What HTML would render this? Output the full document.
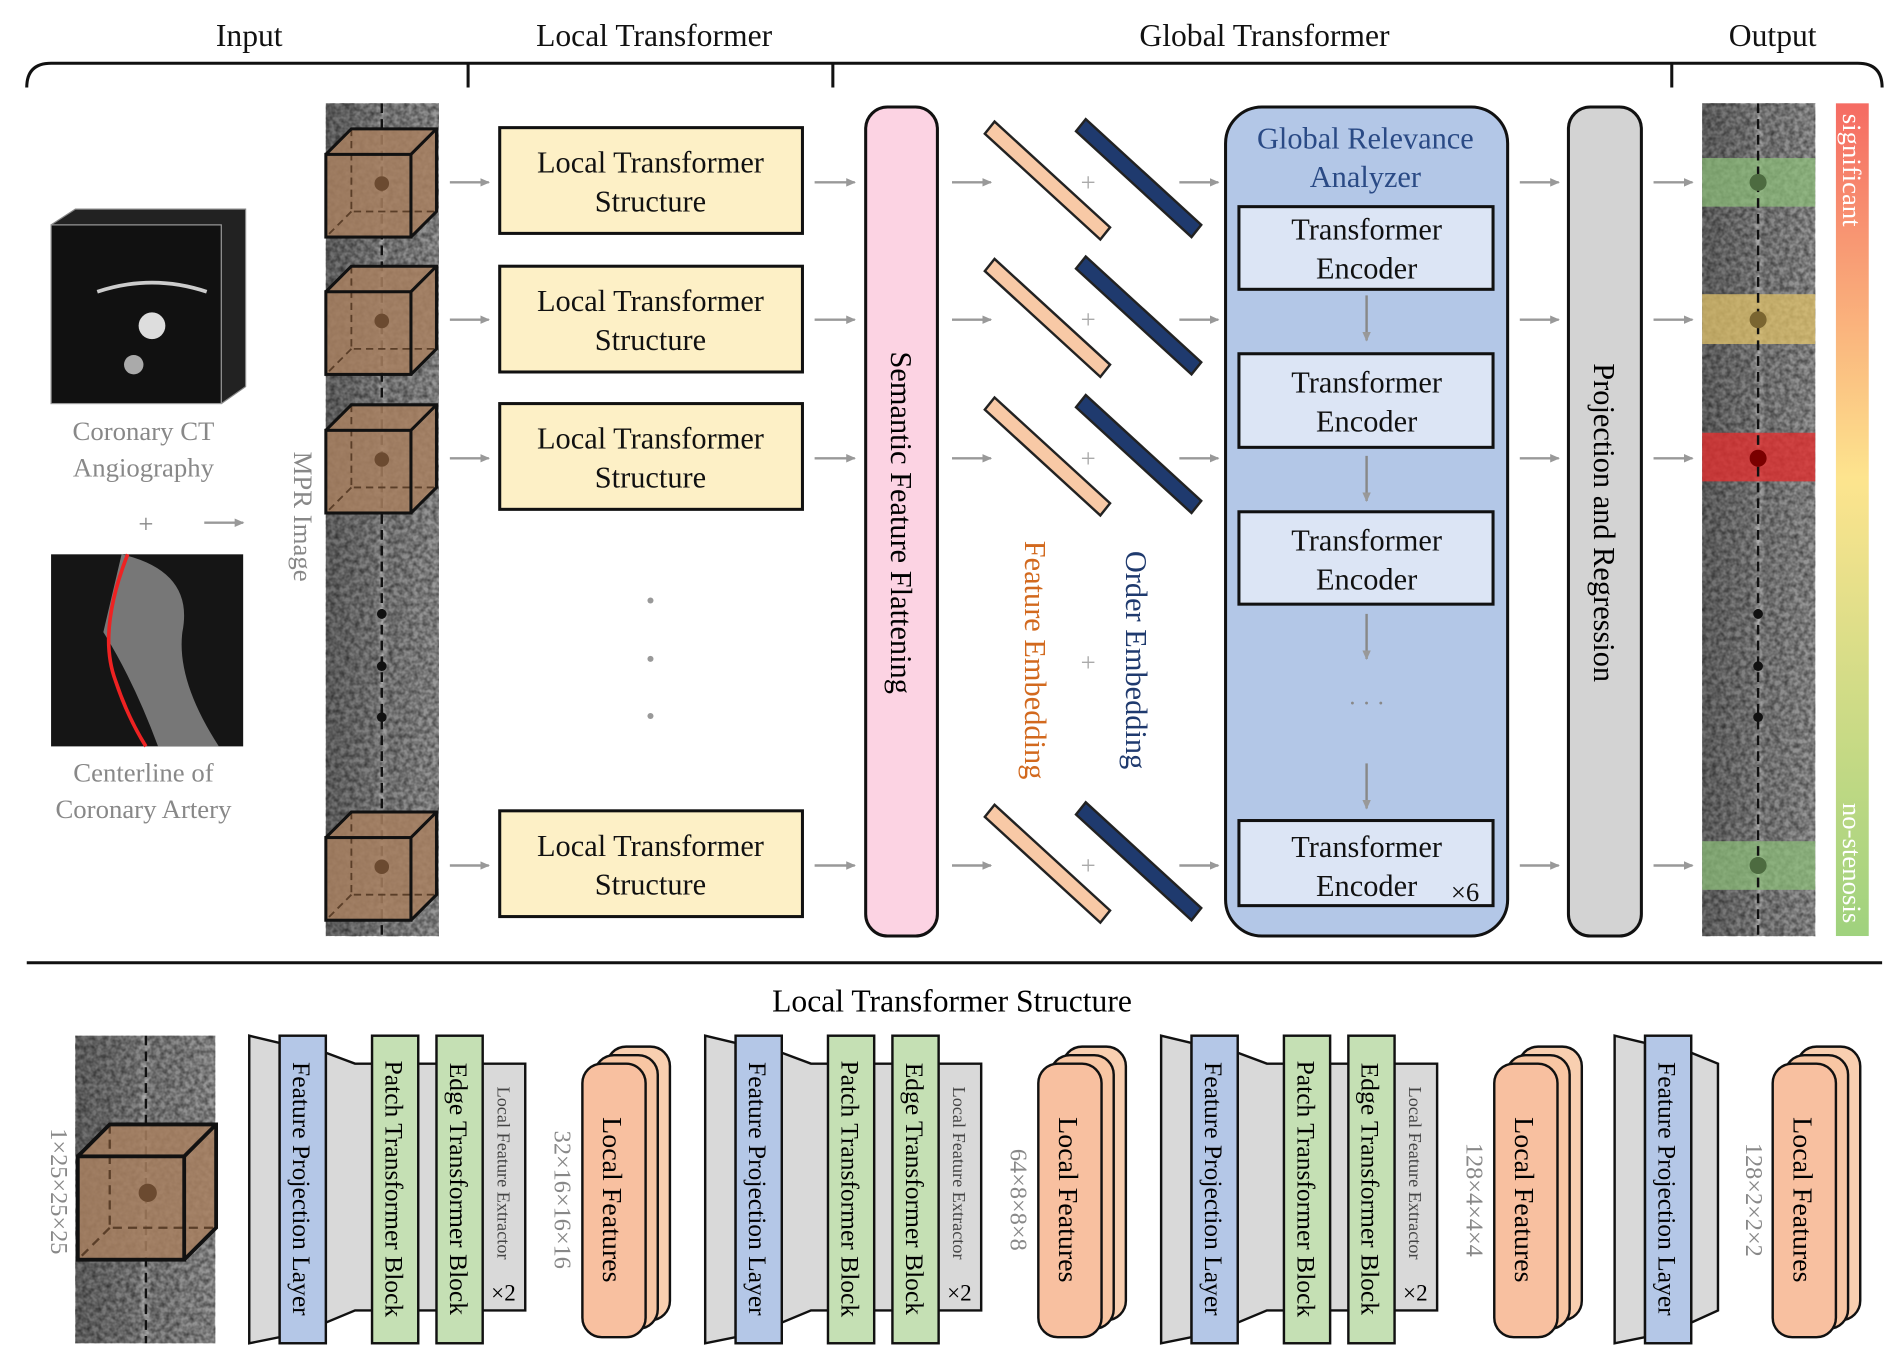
<!DOCTYPE html>
<html><head><meta charset="utf-8"><style>
html,body{margin:0;padding:0;background:#fff;width:1904px;height:1370px;overflow:hidden}
svg{display:block}
text{font-family:"Liberation Serif",serif}
</style></head><body>
<svg width="1904" height="1370" viewBox="0 0 1566 1127" preserveAspectRatio="none" xmlns="http://www.w3.org/2000/svg">
<defs>
<marker id="ar" markerWidth="8" markerHeight="8" refX="7" refY="4" orient="auto" markerUnits="userSpaceOnUse"><path d="M0,0.5 L8,4 L0,7.5z" fill="#999"/></marker>
<linearGradient id="bar" x1="0" y1="0" x2="0" y2="1"><stop offset="0" stop-color="#f56b63"/><stop offset="0.45" stop-color="#fde48e"/><stop offset="1" stop-color="#9fd27e"/></linearGradient>
<linearGradient id="strip" x1="0" y1="0" x2="1" y2="0"><stop offset="0" stop-color="#6d6d6d"/><stop offset="0.45" stop-color="#858585"/><stop offset="0.5" stop-color="#b0b0b0"/><stop offset="0.55" stop-color="#858585"/><stop offset="1" stop-color="#9a9a9a"/></linearGradient>
<filter id="noise" x="0" y="0" width="100%" height="100%"><feTurbulence type="fractalNoise" baseFrequency="0.25" numOctaves="2" seed="3"/><feColorMatrix type="matrix" values="0 0 0 0 0  0 0 0 0 0  0 0 0 0 0  0 0 0 0.9 -0.25"/></filter>
<g id="cube">
<path d="M0,21 L21,0 L91,0 L91,68 L70,89 L0,89z" fill="#a88060" fill-opacity="0.85"/>
<path d="M21,0 V68 H91 M21,68 L0,89" stroke="#5a3e28" stroke-width="1.5" stroke-dasharray="6,4" fill="none"/>
<rect x="0" y="21" width="70" height="68" fill="none" stroke="#111" stroke-width="2.5"/>
<path d="M0,21 L21,0 H91 V68 L70,89 M70,21 L91,0" fill="none" stroke="#111" stroke-width="2.5"/>
<circle cx="46" cy="45" r="6" fill="#6b4a30"/>
</g>
</defs>

<!-- headers -->
<g font-size="26" text-anchor="middle" fill="#111">
<text x="205" y="38">Input</text><text x="538" y="38">Local Transformer</text>
<text x="1040" y="38">Global Transformer</text><text x="1458" y="38">Output</text>
</g>
<path d="M22,72 Q22,52 42,52 H1528 Q1548,52 1548,72" fill="none" stroke="#111" stroke-width="2.5"/>
<path d="M385,52 V72 M685,52 V72 M1375,52 V72" stroke="#111" stroke-width="2.5"/>

<!-- input -->
<path d="M42,185 L62,172 H202 V318 L182,332" fill="#222" stroke="#888"/>
<rect x="42" y="185" width="140" height="147" fill="#111" stroke="#999"/>
<circle cx="125" cy="268" r="11" fill="#ddd"/><circle cx="110" cy="300" r="8" fill="#aaa"/><path d="M80,240 Q125,225 170,240" stroke="#ccc" stroke-width="3" fill="none"/>
<g font-size="22" fill="#888" text-anchor="middle">
<text x="118" y="362">Coronary CT</text><text x="118" y="392">Angiography</text>
<text x="120" y="438">+</text>
<text x="118" y="643">Centerline of</text><text x="118" y="673">Coronary Artery</text>
</g>
<line x1="168" y1="430" x2="200" y2="430" stroke="#999" stroke-width="2" marker-end="url(#ar)"/>
<rect x="42" y="456" width="158" height="158" fill="#151515"/>
<path d="M100,456 Q160,470 150,520 Q145,560 180,614 H130 Q110,560 85,520 Z" fill="#777"/>
<path d="M105,456 Q80,520 95,560 Q105,590 120,614" stroke="#e22" stroke-width="3" fill="none"/>
<text x="242" y="425" font-size="22" fill="#888" text-anchor="middle" transform="rotate(90 242 425)">MPR Image</text>

<!-- MPR strip -->
<rect x="268" y="85" width="93" height="685" fill="url(#strip)"/>
<rect x="268" y="85" width="93" height="685" filter="url(#noise)"/>
<line x1="314" y1="85" x2="314" y2="770" stroke="#111" stroke-width="2" stroke-dasharray="8,5"/>
<circle cx="314" cy="505" r="4" fill="#111"/><circle cx="314" cy="548" r="4" fill="#111"/><circle cx="314" cy="590" r="4" fill="#111"/>
<use href="#cube" x="268" y="106"/><use href="#cube" x="268" y="219"/><use href="#cube" x="268" y="333"/><use href="#cube" x="268" y="668"/>

<!-- arrows row -->
<g stroke="#999" stroke-width="2" marker-end="url(#ar)">
<line x1="370" y1="150" x2="402" y2="150"/><line x1="370" y1="263" x2="402" y2="263"/><line x1="370" y1="377" x2="402" y2="377"/><line x1="370" y1="712" x2="402" y2="712"/>
<line x1="670" y1="150" x2="703" y2="150"/><line x1="670" y1="263" x2="703" y2="263"/><line x1="670" y1="377" x2="703" y2="377"/><line x1="670" y1="712" x2="703" y2="712"/>
<line x1="783" y1="150" x2="815" y2="150"/><line x1="783" y1="263" x2="815" y2="263"/><line x1="783" y1="377" x2="815" y2="377"/><line x1="783" y1="712" x2="815" y2="712"/>
<line x1="970" y1="150" x2="1002" y2="150"/><line x1="970" y1="263" x2="1002" y2="263"/><line x1="970" y1="377" x2="1002" y2="377"/><line x1="970" y1="712" x2="1002" y2="712"/>
<line x1="1250" y1="150" x2="1282" y2="150"/><line x1="1250" y1="263" x2="1282" y2="263"/><line x1="1250" y1="377" x2="1282" y2="377"/><line x1="1250" y1="712" x2="1282" y2="712"/>
<line x1="1360" y1="150" x2="1392" y2="150"/><line x1="1360" y1="263" x2="1392" y2="263"/><line x1="1360" y1="377" x2="1392" y2="377"/><line x1="1360" y1="712" x2="1392" y2="712"/>
</g>

<!-- local transformer boxes -->
<g fill="#fdf0c6" stroke="#111" stroke-width="2.5">
<rect x="411" y="105" width="249" height="87"/><rect x="411" y="219" width="249" height="87"/><rect x="411" y="332" width="249" height="87"/><rect x="411" y="667" width="249" height="87"/>
</g>
<g font-size="25" text-anchor="middle" fill="#111">
<text x="535" y="142">Local Transformer</text><text x="535" y="174">Structure</text>
<text x="535" y="256">Local Transformer</text><text x="535" y="288">Structure</text>
<text x="535" y="369">Local Transformer</text><text x="535" y="401">Structure</text>
<text x="535" y="704">Local Transformer</text><text x="535" y="736">Structure</text>
</g>
<g fill="#999"><circle cx="535" cy="494" r="2.5"/><circle cx="535" cy="542" r="2.5"/><circle cx="535" cy="589" r="2.5"/></g>

<!-- semantic feature flattening -->
<rect x="712" y="88" width="59" height="682" rx="18" fill="#fcd3e3" stroke="#111" stroke-width="2.5"/>
<text x="733" y="430" font-size="25" text-anchor="middle" transform="rotate(90 733 430)">Semantic Feature Flattening</text>

<!-- embeddings -->
<g stroke="#222" stroke-width="2">
<g fill="#f8c9a6">
<path d="M818,100 L913,187 L905,197 L810,110z"/><path d="M818,213 L913,300 L905,310 L810,223z"/><path d="M818,327 L913,414 L905,424 L810,337z"/><path d="M818,662 L913,749 L905,759 L810,672z"/>
</g>
<g fill="#1f3a6e">
<path d="M893,98 L988,185 L980,195 L885,108z"/><path d="M893,211 L988,298 L980,308 L885,221z"/><path d="M893,325 L988,412 L980,422 L885,335z"/><path d="M893,660 L988,747 L980,757 L885,670z"/>
</g>
</g>
<g font-size="22" fill="#aaa" text-anchor="middle">
<text x="895" y="157">+</text><text x="895" y="270">+</text><text x="895" y="384">+</text><text x="895" y="552">+</text><text x="895" y="719">+</text>
</g>
<text x="843" y="543" font-size="25" fill="#d2691e" text-anchor="middle" transform="rotate(90 843 543)">Feature Embedding</text>
<text x="926" y="543" font-size="25" fill="#1f3a6e" text-anchor="middle" transform="rotate(90 926 543)">Order Embedding</text>

<!-- global relevance analyzer -->
<rect x="1008" y="88" width="232" height="682" rx="30" fill="#b3c7e7" stroke="#111" stroke-width="2.5"/>
<text x="1123" y="122" font-size="25" fill="#2a4a85" text-anchor="middle">Global Relevance</text>
<text x="1123" y="154" font-size="25" fill="#2a4a85" text-anchor="middle">Analyzer</text>
<g fill="#dce5f5" stroke="#111" stroke-width="2.5">
<rect x="1019" y="170" width="209" height="68"/><rect x="1019" y="291" width="209" height="77"/><rect x="1019" y="421" width="209" height="76"/><rect x="1019" y="675" width="209" height="70"/>
</g>
<g font-size="25" text-anchor="middle" fill="#111">
<text x="1124" y="197">Transformer</text><text x="1124" y="229">Encoder</text>
<text x="1124" y="323">Transformer</text><text x="1124" y="355">Encoder</text>
<text x="1124" y="453">Transformer</text><text x="1124" y="485">Encoder</text>
<text x="1124" y="705">Transformer</text><text x="1124" y="737">Encoder</text>
<text x="1205" y="741" font-size="22">×6</text>
</g>
<g stroke="#888" stroke-width="2" marker-end="url(#ar)">
<line x1="1124" y1="243" x2="1124" y2="280"/><line x1="1124" y1="375" x2="1124" y2="412"/><line x1="1124" y1="505" x2="1124" y2="542"/><line x1="1124" y1="628" x2="1124" y2="665"/>
</g>
<text x="1124" y="585" font-size="20" fill="#888" text-anchor="middle">· · ·</text>

<!-- projection -->
<rect x="1290" y="88" width="60" height="682" rx="18" fill="#d3d3d3" stroke="#111" stroke-width="2.5"/>
<text x="1311" y="430" font-size="25" text-anchor="middle" transform="rotate(90 1311 430)">Projection and Regression</text>

<!-- output strip -->
<rect x="1400" y="85" width="93" height="685" fill="url(#strip)"/>
<rect x="1400" y="85" width="93" height="685" filter="url(#noise)"/>
<rect x="1400" y="130" width="93" height="40" fill="#8fc27a" fill-opacity="0.7"/>
<rect x="1400" y="242" width="93" height="41" fill="#e0c16a" fill-opacity="0.75"/>
<rect x="1400" y="356" width="93" height="40" fill="#e03030" fill-opacity="0.8"/>
<rect x="1400" y="692" width="93" height="40" fill="#8fc27a" fill-opacity="0.7"/>
<line x1="1446" y1="85" x2="1446" y2="770" stroke="#111" stroke-width="2" stroke-dasharray="8,5"/>
<circle cx="1446" cy="150" r="7" fill="#4d6b40"/><circle cx="1446" cy="263" r="7" fill="#7a6530"/><circle cx="1446" cy="377" r="7" fill="#7a0000"/><circle cx="1446" cy="712" r="7" fill="#4d6b40"/>
<circle cx="1446" cy="505" r="4" fill="#111"/><circle cx="1446" cy="548" r="4" fill="#111"/><circle cx="1446" cy="590" r="4" fill="#111"/>
<rect x="1510" y="85" width="27" height="685" fill="url(#bar)"/>
<text x="1516" y="140" font-size="22" fill="#fff" text-anchor="middle" transform="rotate(90 1516 140)">significant</text>
<text x="1516" y="710" font-size="22" fill="#fff" text-anchor="middle" transform="rotate(90 1516 710)">no-stenosis</text>

<!-- separator -->
<line x1="22" y1="792" x2="1548" y2="792" stroke="#111" stroke-width="2.5"/>
<text x="783" y="832" font-size="26" text-anchor="middle">Local Transformer Structure</text>

<!-- bottom input -->
<rect x="62" y="852" width="115" height="253" fill="url(#strip)"/>
<rect x="62" y="852" width="115" height="253" filter="url(#noise)"/>
<line x1="120" y1="852" x2="120" y2="1105" stroke="#111" stroke-width="2" stroke-dasharray="8,5"/>
<use href="#cube" transform="translate(64,925) scale(1.25)"/>
<text x="42" y="980" font-size="20" fill="#888" text-anchor="middle" transform="rotate(90 42 980)">1×25×25×25</text>

<!-- groups -->
<g id="grp">
<path d="M205,852 L230,858 V1100 L205,1105z" fill="#d9d9d9" stroke="#111" stroke-width="2"/>
<path d="M268,866 L292,875 H432 V1078 H292 L268,1088z" fill="#d9d9d9" stroke="#111" stroke-width="2"/>
<rect x="230" y="852" width="38" height="253" fill="#b4c7e7" stroke="#111" stroke-width="2"/>
<rect x="306" y="852" width="38" height="253" fill="#c5e0b4" stroke="#111" stroke-width="2"/>
<rect x="359" y="852" width="38" height="253" fill="#c5e0b4" stroke="#111" stroke-width="2"/>
<text x="241" y="978" font-size="21" text-anchor="middle" transform="rotate(90 241 978)">Feature Projection Layer</text>
<text x="317" y="978" font-size="21" text-anchor="middle" transform="rotate(90 317 978)">Patch Transformer Block</text>
<text x="370" y="978" font-size="21" text-anchor="middle" transform="rotate(90 370 978)">Edge Transformer Block</text>
<text x="409" y="965" font-size="15" fill="#444" text-anchor="middle" transform="rotate(90 409 965)">Local Feature Extractor</text>
<text x="404" y="1070" font-size="19">×2</text>
<rect x="499" y="861" width="52" height="225" rx="16" fill="#f8cfb0" stroke="#111" stroke-width="2"/>
<rect x="489" y="868" width="52" height="225" rx="16" fill="#f8c6a3" stroke="#111" stroke-width="2"/>
<rect x="479" y="875" width="52" height="225" rx="16" fill="#f8c0a0" stroke="#111" stroke-width="2"/>
<text x="496" y="987" font-size="23" text-anchor="middle" transform="rotate(90 496 987)">Local Features</text>
</g>
<use href="#grp" x="375"/>
<use href="#grp" x="750"/>
<text x="456" y="987" font-size="20" fill="#888" text-anchor="middle" transform="rotate(90 456 987)">32×16×16×16</text>
<text x="831" y="987" font-size="20" fill="#888" text-anchor="middle" transform="rotate(90 831 987)">64×8×8×8</text>
<text x="1206" y="987" font-size="20" fill="#888" text-anchor="middle" transform="rotate(90 1206 987)">128×4×4×4</text>
<!-- last group -->
<path d="M1328,852 L1353,858 V1100 L1328,1105z" fill="#d9d9d9" stroke="#111" stroke-width="2"/>
<path d="M1391,866 L1413,875 V1078 L1391,1088z" fill="#d9d9d9" stroke="#111" stroke-width="2"/>
<rect x="1353" y="852" width="38" height="253" fill="#b4c7e7" stroke="#111" stroke-width="2"/>
<text x="1364" y="978" font-size="21" text-anchor="middle" transform="rotate(90 1364 978)">Feature Projection Layer</text>
<text x="1436" y="987" font-size="20" fill="#888" text-anchor="middle" transform="rotate(90 1436 987)">128×2×2×2</text>
<rect x="1478" y="861" width="52" height="225" rx="16" fill="#f8cfb0" stroke="#111" stroke-width="2"/>
<rect x="1468" y="868" width="52" height="225" rx="16" fill="#f8c6a3" stroke="#111" stroke-width="2"/>
<rect x="1458" y="875" width="52" height="225" rx="16" fill="#f8c0a0" stroke="#111" stroke-width="2"/>
<text x="1475" y="987" font-size="23" text-anchor="middle" transform="rotate(90 1475 987)">Local Features</text>
</svg>
</body></html>
